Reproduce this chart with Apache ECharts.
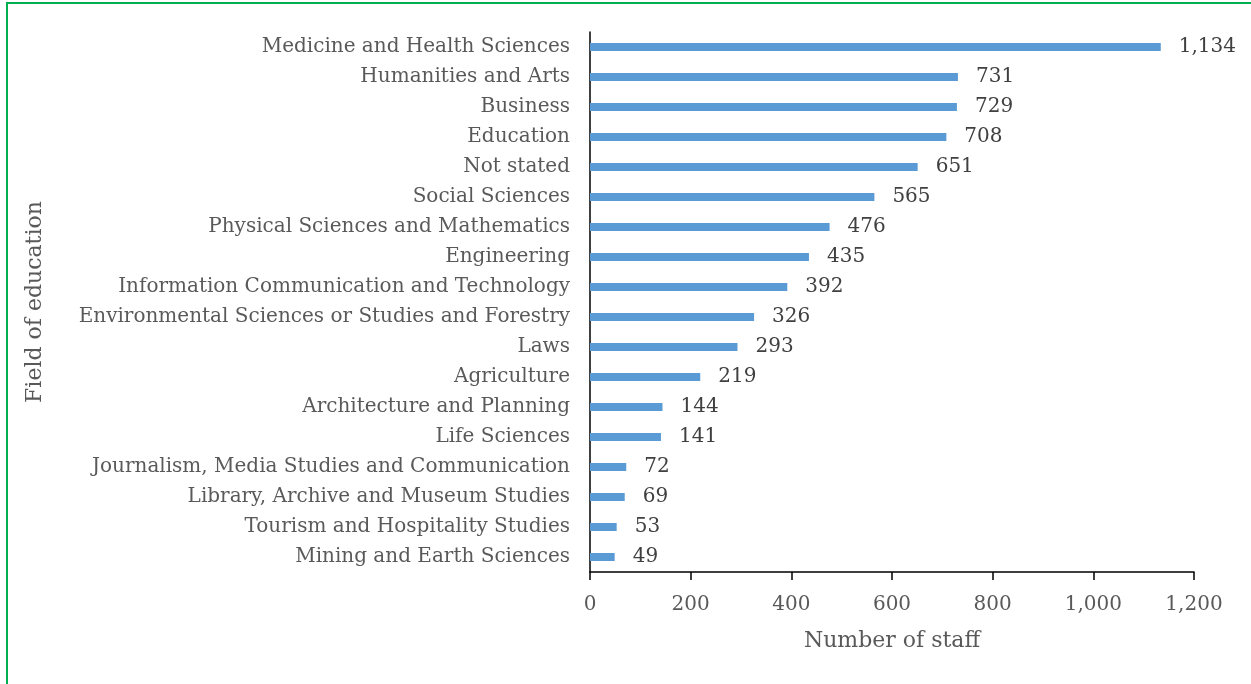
<!DOCTYPE html>
<html><head><meta charset="utf-8">
<script src="https://cdn.jsdelivr.net/npm/echarts@6/dist/echarts.min.js"></script>
<style>
html,body{margin:0;padding:0;background:#fff;}
#frame{position:absolute;left:6px;top:2px;width:1300px;height:740px;border:2px solid #00B050;box-sizing:border-box;}
#chart{position:absolute;left:0;top:0;width:1251px;height:684px;}
</style></head>
<body>
<div id="frame"></div>
<div id="chart"></div>
<script>
const categories = ["Medicine and Health Sciences","Humanities and Arts","Business","Education","Not stated","Social Sciences","Physical Sciences and Mathematics","Engineering","Information Communication and Technology","Environmental Sciences or Studies and Forestry","Laws","Agriculture","Architecture and Planning","Life Sciences","Journalism, Media Studies and Communication","Library, Archive and Museum Studies","Tourism and Hospitality Studies","Mining and Earth Sciences"];
const staff = [1134,731,729,708,651,565,476,435,392,326,293,219,144,141,72,69,53,49];
const xTicks = [0,200,400,600,800,1000,1200];

const FONT = "DejaVu Serif";
const chart = echarts.init(document.getElementById('chart'), null, {renderer:'canvas'});
chart.setOption({
  animation:false,
  textStyle:{fontFamily:FONT,color:'#595959'},
  grid:{left:590,right:57,top:32,bottom:112,containLabel:false},
  xAxis:{type:'value',min:0,max:1200,interval:200,
    name:'Number of staff',nameLocation:'middle',nameGap:58,
    nameTextStyle:{fontFamily:FONT,fontSize:22,color:'#595959'},
    axisLine:{show:true,lineStyle:{color:'#000',width:1.5}},
    axisTick:{show:true,length:8,inside:false,lineStyle:{color:'#000',width:1.5}},
    splitLine:{show:false},
    axisLabel:{fontFamily:FONT,fontSize:20,color:'#595959',margin:23,
      formatter:v=>xTicks.includes(v)?v.toLocaleString('en-US'):''}
  },
  yAxis:{type:'category',data:categories,inverse:true,
    name:'Field of education',nameLocation:'middle',nameGap:544,
    nameTextStyle:{fontFamily:FONT,fontSize:22,color:'#595959'},
    axisLine:{show:true,lineStyle:{color:'#000',width:1.5}},
    axisTick:{show:false},
    axisLabel:{fontFamily:FONT,fontSize:20,color:'#595959',margin:20}
  },
  series:[{type:'bar',data:staff,barWidth:8,
    itemStyle:{color:'#5B9BD5'},
    label:{show:true,position:'right',distance:18,fontFamily:FONT,fontSize:20,color:'#404040',
      formatter:p=>p.value.toLocaleString('en-US')}
  }]
});
</script>
</body></html>
